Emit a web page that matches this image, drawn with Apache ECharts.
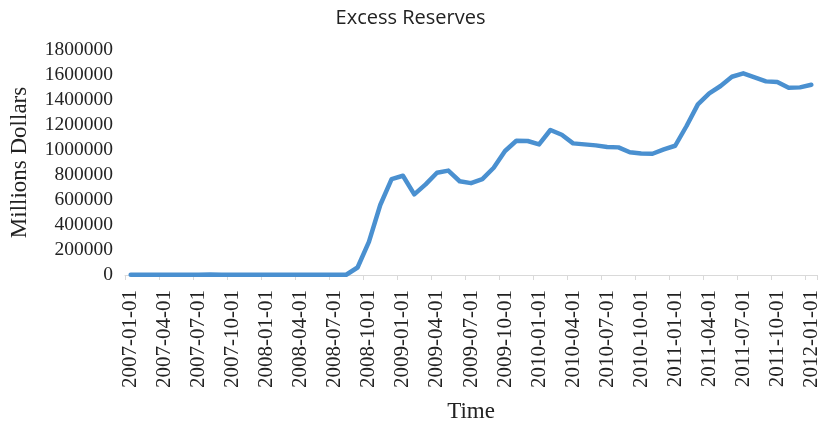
<!DOCTYPE html>
<html>
<head>
<meta charset="utf-8">
<script src="https://cdn.jsdelivr.net/npm/echarts@6/dist/echarts.min.js"></script>
<style>
html,body{margin:0;padding:0;background:#fff;}
#chart{width:821px;height:423px;}
</style>
</head>
<body>
<div id="chart"></div>
<script>
var titleText = 'Excess Reserves';
var xAxisName = 'Time';
var yAxisName = 'Millions Dollars';

var dates = [
  '2007-01-01','2007-02-01','2007-03-01','2007-04-01','2007-05-01','2007-06-01',
  '2007-07-01','2007-08-01','2007-09-01','2007-10-01','2007-11-01','2007-12-01',
  '2008-01-01','2008-02-01','2008-03-01','2008-04-01','2008-05-01','2008-06-01',
  '2008-07-01','2008-08-01','2008-09-01','2008-10-01','2008-11-01','2008-12-01',
  '2009-01-01','2009-02-01','2009-03-01','2009-04-01','2009-05-01','2009-06-01',
  '2009-07-01','2009-08-01','2009-09-01','2009-10-01','2009-11-01','2009-12-01',
  '2010-01-01','2010-02-01','2010-03-01','2010-04-01','2010-05-01','2010-06-01',
  '2010-07-01','2010-08-01','2010-09-01','2010-10-01','2010-11-01','2010-12-01',
  '2011-01-01','2011-02-01','2011-03-01','2011-04-01','2011-05-01','2011-06-01',
  '2011-07-01','2011-08-01','2011-09-01','2011-10-01','2011-11-01','2011-12-01',
  '2012-01-01'
];

var excessReserves = [
  1500, 1600, 1500, 1700, 1600, 1500,
  1700, 4000, 1900, 1600, 1700, 1700,
  1600, 1700, 2800, 1800, 1700, 1800,
  1800, 1900, 60000, 265000, 560000, 767000,
  794000, 645000, 725000, 818000, 835000, 750000,
  735000, 767000, 858000, 992000, 1074000, 1072000,
  1045000, 1160000, 1122000, 1053000, 1045000, 1037000,
  1024000, 1021000, 982000, 972000, 970000, 1005000,
  1034000, 1192000, 1365000, 1453000, 1512000, 1586000,
  1613000, 1581000, 1549000, 1544000, 1498000, 1501000,
  1522000
];

var yMin = 0, yMax = 1800000, yInterval = 200000;

var chart = echarts.init(document.getElementById('chart'), null, {renderer: 'canvas'});
var serif = '"Liberation Serif", "Times New Roman", serif';
chart.setOption({
  animation: false,
  backgroundColor: '#ffffff',
  title: {
    text: titleText,
    left: 'center',
    top: 3,
    textStyle: {fontFamily: '"Open Sans", "Liberation Sans", sans-serif', fontSize: 20, fontWeight: 'normal', color: '#222'}
  },
  grid: {left: 125, right: 4, top: 50, bottom: 148, containLabel: false, outerBoundsMode: 'none'},
  xAxis: {
    type: 'category',
    data: dates,
    boundaryGap: true,
    name: xAxisName,
    nameLocation: 'middle',
    nameGap: 125,
    nameTextStyle: {fontFamily: serif, fontSize: 23, color: '#222'},
    axisLine: {show: true, lineStyle: {color: '#d9d9d9', width: 1}},
    axisTick: {show: true, interval: 2, length: 5, lineStyle: {color: '#d9d9d9'}},
    axisLabel: {interval: 2, rotate: 90, margin: 15, fontFamily: serif, fontSize: 21, color: '#222'},
    splitLine: {show: false}
  },
  yAxis: {
    type: 'value',
    min: yMin,
    max: yMax,
    interval: yInterval,
    name: yAxisName,
    nameLocation: 'middle',
    nameGap: 94,
    nameTextStyle: {fontFamily: serif, fontSize: 23, color: '#222'},
    axisLine: {show: false},
    axisTick: {show: false},
    axisLabel: {margin: 12, fontFamily: serif, fontSize: 19.5, color: '#222', formatter: function (v) { return String(v); }},
    splitLine: {show: false}
  },
  series: [{
    type: 'line',
    data: excessReserves,
    showSymbol: false,
    symbol: 'none',
    lineStyle: {color: '#4a90d0', width: 4.5, cap: 'round', join: 'round'}
  }]
});
</script>
</body>
</html>
